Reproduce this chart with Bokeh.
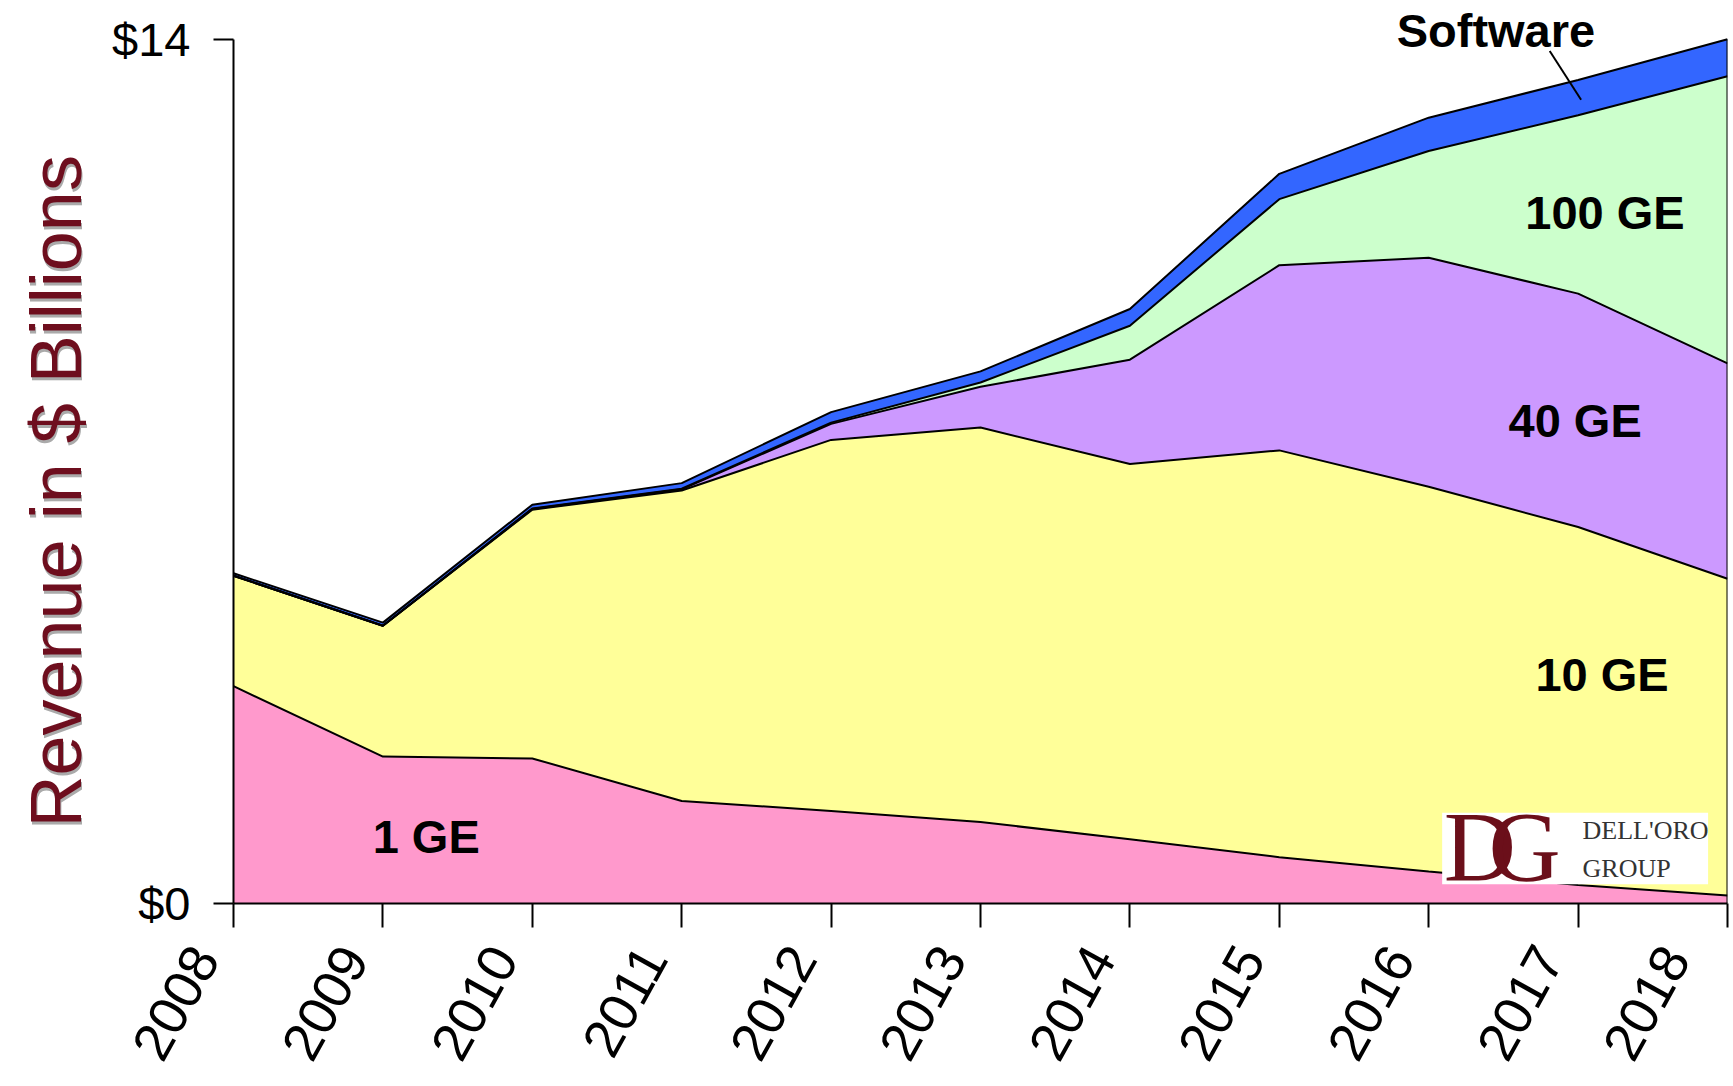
import math
from bokeh.plotting import figure
from bokeh.models import Range1d, FixedTicker, NumeralTickFormatter, Label, BoxAnnotation, ColumnDataSource, Title
from bokeh.embed import file_html
from bokeh.resources import INLINE

years = [2008, 2009, 2010, 2011, 2012, 2013, 2014, 2015, 2016, 2017, 2018]
ge1 = [3.52, 2.38, 2.35, 1.66, 1.50, 1.32, 1.04, 0.75, 0.52, 0.30, 0.13]
ge10 = [1.79, 2.12, 4.03, 5.03, 6.01, 6.39, 6.08, 6.59, 6.23, 5.80, 5.13]
ge40 = [0.00, 0.00, 0.01, 0.02, 0.26, 0.66, 1.69, 3.00, 3.71, 3.78, 3.49]
ge100 = [0.00, 0.00, 0.01, 0.01, 0.02, 0.07, 0.55, 1.07, 1.73, 2.89, 4.65]
software = [0.04, 0.05, 0.06, 0.09, 0.17, 0.18, 0.27, 0.41, 0.54, 0.57, 0.60]

series_names = ["1 GE", "10 GE", "40 GE", "100 GE", "Software"]
series_keys = ["ge1", "ge10", "ge40", "ge100", "software"]
series_colors = ["#FF99CC", "#FFFF99", "#CC99FF", "#CCFFCC", "#3366FF"]
y_ticks = [0, 14]

source = ColumnDataSource(dict(year=years, ge1=ge1, ge10=ge10, ge40=ge40, ge100=ge100, software=software))

FONT = "Liberation Sans"
NBSP = "\u00a0"

p = figure(frame_width=1494, frame_height=892, output_backend="svg", toolbar_location=None,
           x_range=Range1d(years[0], years[-1]), y_range=Range1d(0, 14.45),
           min_border_left=233, min_border_right=3, min_border_top=11, min_border_bottom=0)
p.background_fill_color = "white"
p.border_fill_color = "white"
p.outline_line_color = None
p.grid.grid_line_color = None

p.varea_stack(stackers=series_keys, x="year", color=series_colors, source=source)
p.vline_stack(stackers=series_keys, x="year", color="black", line_width=2, source=source)
totals = [a + b + c + d + e for a, b, c, d, e in zip(ge1, ge10, ge40, ge100, software)]
p.segment(x0=[years[-1]], y0=[0], x1=[years[-1]], y1=[totals[-1]], line_color="black", line_width=2)

# x axis
p.xaxis.ticker = FixedTicker(ticks=years)
p.xaxis.major_label_overrides = {y: str(y) + NBSP * 4 for y in years}
p.xaxis.major_label_orientation = math.radians(61)
p.xaxis.major_label_text_font = FONT
p.xaxis.major_label_text_font_size = "54px"
p.xaxis.major_label_text_color = "black"
p.xaxis.major_label_standoff = -30
p.xaxis.major_tick_out = 24
p.xaxis.major_tick_in = 0
p.xaxis.minor_tick_line_color = None
p.xaxis.axis_line_width = 2
p.xaxis.major_tick_line_width = 2
p.xaxis.axis_line_color = "black"
p.xaxis.major_tick_line_color = "black"

# y axis
p.yaxis.ticker = FixedTicker(ticks=y_ticks)
p.yaxis.bounds = (y_ticks[0], y_ticks[-1])
p.yaxis.formatter = NumeralTickFormatter(format="$0")
p.yaxis.major_label_text_font = FONT
p.yaxis.major_label_text_font_size = "47px"
p.yaxis.major_label_text_color = "black"
p.yaxis.major_label_standoff = 23
p.yaxis.major_tick_out = 20
p.yaxis.major_tick_in = 0
p.yaxis.minor_tick_line_color = None
p.yaxis.axis_line_width = 2
p.yaxis.major_tick_line_width = 2
p.yaxis.axis_line_color = "black"
p.yaxis.major_tick_line_color = "black"

# y axis title with drop shadow: the shadow is drawn first, the title overlaps it 3px up-left
YTITLE = "Revenue in $ Billions"
p.add_layout(Title(text=YTITLE, align="left", offset=73, standoff=26, vertical_align="bottom",
                   text_font=FONT, text_font_size="72px", text_font_style="normal",
                   text_color="#AAAAAA"), "left")
p.add_layout(Title(text=YTITLE, align="left", offset=76, standoff=-188, vertical_align="bottom",
                   text_font=FONT, text_font_size="72px", text_font_style="normal",
                   text_color="#6E0E1E"), "left")

# series labels
lab_pos = {"1 GE": (2009.29, 1.08), "10 GE": (2017.16, 3.71), "40 GE": (2016.98, 7.82),
           "100 GE": (2017.18, 11.19), "Software": (2016.45, 14.14)}
for name in series_names:
    x, y = lab_pos[name]
    p.add_layout(Label(x=x, y=y, text=name, text_align="center", text_baseline="middle",
                       text_font=FONT, text_font_style="bold", text_font_size="47px", text_color="black"))
# leader line for Software
p.line(x=[2016.81, 2017.02], y=[13.81, 13.02], line_color="black", line_width=2)

# Dell'Oro logo
LOGO = "#6B0F1A"
p.add_layout(BoxAnnotation(left=2016.09, right=2017.87, bottom=0.31, top=1.47,
                           fill_color="white", fill_alpha=1.0, line_color=None))
p.add_layout(Label(x=2016.10, y=0.93, text="D", text_align="left", text_baseline="middle",
                   text_font="Liberation Serif", text_font_size="100px", text_color=LOGO))
p.add_layout(Label(x=2016.40, y=0.93, text="G", text_align="left", text_baseline="middle",
                   text_font="Liberation Serif", text_font_size="100px", text_color=LOGO))
p.add_layout(Label(x=2017.03, y=1.18, text="DELL'ORO", text_align="left", text_baseline="middle",
                   text_font="Liberation Serif", text_font_size="26px", text_color="#333333"))
p.add_layout(Label(x=2017.03, y=0.575, text="GROUP", text_align="left", text_baseline="middle",
                   text_font="Liberation Serif", text_font_size="26px", text_color="#333333"))

open("out.html", "w").write(file_html(p, INLINE))
